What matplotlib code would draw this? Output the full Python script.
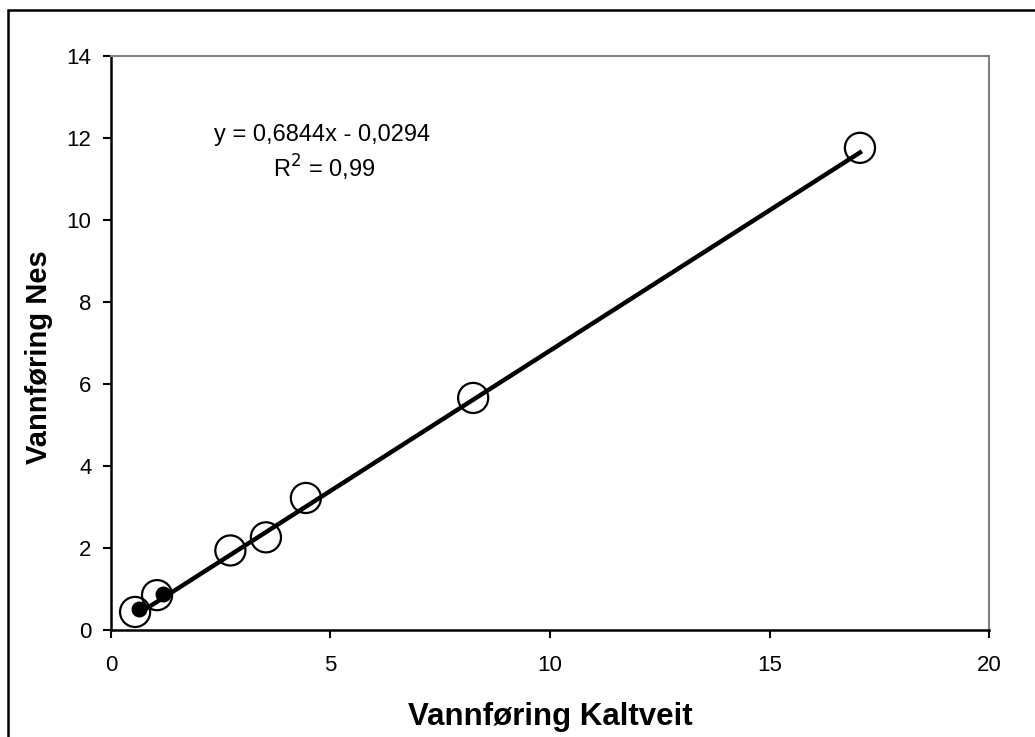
import numpy as np
import matplotlib.pyplot as plt
from matplotlib.patches import Rectangle

plt.rcParams["font.family"] = ["Liberation Sans", "DejaVu Sans"]

# observed pairs (open circles)
kaltveit = [0.55, 1.05, 2.72, 3.53, 4.44, 8.25, 17.06]
nes = [0.44, 0.85, 1.94, 2.26, 3.22, 5.66, 11.76]

# filled points
kaltveit_fill = [0.64, 1.18]
nes_fill = [0.50, 0.87]

slope = 0.6844
intercept = -0.0294

fig = plt.figure(figsize=(10.35, 7.37), dpi=100)
ax = fig.add_axes([0.1072, 0.1452, 0.8484, 0.7788])

# outer frame (only left/top visible in the crop)
fig.patches.append(Rectangle((0.0077, -0.05), 1.2, 1.0364, transform=fig.transFigure,
                             fill=False, edgecolor="black", linewidth=1.8))

xl = np.array([min(kaltveit_fill), max(kaltveit)])
ax.plot(xl, slope * xl + intercept, color="black", linewidth=3.2, zorder=2)
ax.scatter(kaltveit_fill, nes_fill, s=110, color="black", zorder=3)
ax.scatter(kaltveit, nes, s=470, facecolors="none", edgecolors="black", linewidths=1.6, zorder=4)

ax.text(4.8, 12.08, "y = 0,6844x - 0,0294", ha="center", va="center", fontsize=17)
ax.text(4.85, 11.28, "R$^2$ = 0,99", ha="center", va="center", fontsize=17)

ax.set_xlim(0, 20)
ax.set_ylim(0, 14)
ax.set_xticks([0, 5, 10, 15, 20])
ax.set_yticks(range(0, 15, 2))
ax.tick_params(direction="out", length=6, width=1.5, labelsize=16)
ax.tick_params(axis="x", pad=12)
ax.tick_params(axis="y", pad=8)

ax.spines["left"].set_linewidth(1.8)
ax.spines["bottom"].set_linewidth(1.8)
ax.spines["top"].set_color("#808080")
ax.spines["right"].set_color("#808080")
ax.spines["top"].set_linewidth(1.5)
ax.spines["right"].set_linewidth(1.5)

ax.set_xlabel("Vannføring Kaltveit", fontsize=22.5, fontweight="bold", labelpad=19)
ax.set_ylabel("Vannføring Nes", fontsize=21, fontweight="bold")
ax.yaxis.set_label_coords(-0.066, 0.475)

fig.savefig("out.png", dpi=100)
